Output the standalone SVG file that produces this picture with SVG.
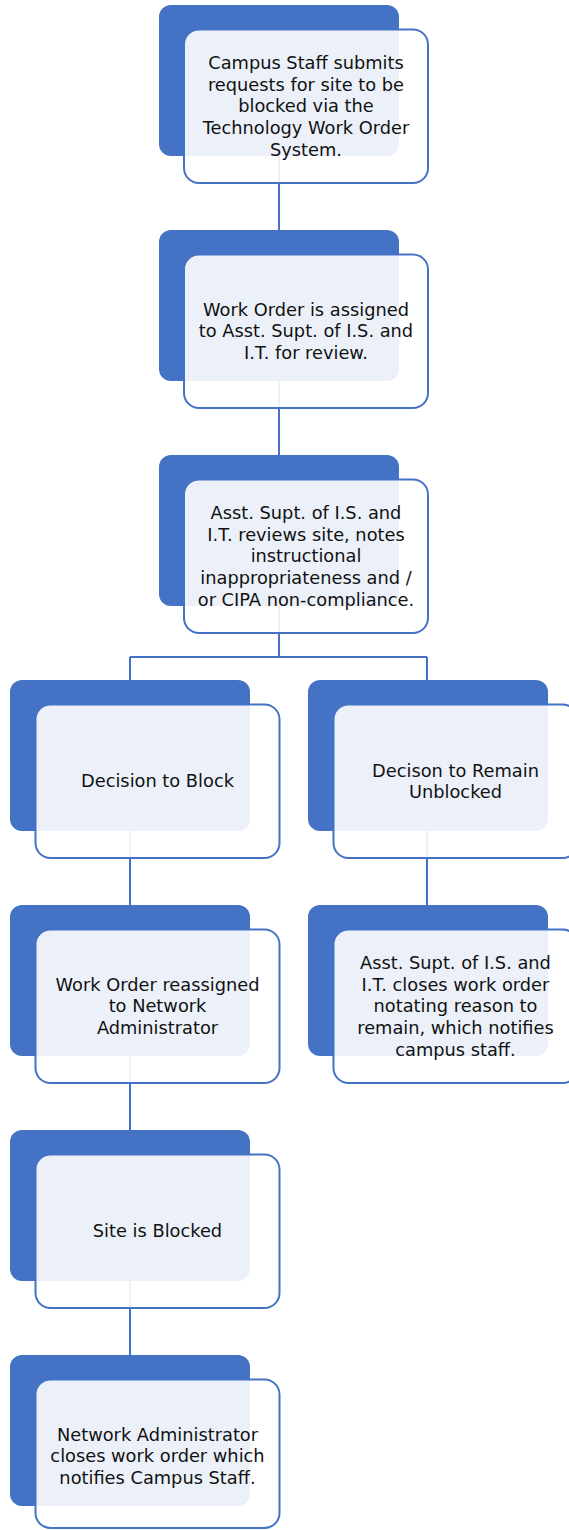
<svg xmlns="http://www.w3.org/2000/svg" width="569" height="1530" viewBox="0 0 569 1530">
<style>
.back{fill:#4472C4;}
.front{fill:#ffffff;fill-opacity:0.9;stroke:#4472C4;stroke-width:2;}
.conn{fill:none;stroke:#4472C4;stroke-width:2;}
text{font-family:"DejaVu Sans","Liberation Sans",sans-serif;font-size:17.8px;fill:#111111;text-anchor:middle;}
</style>
<rect width="569" height="1530" fill="#ffffff"/>
<g id="connectors">
<path class="conn" d="M279 155V230M279 380V455M279 605V657M130 657H427M130 657V680M427 657V680M130 830V905M130 1055V1130M130 1280V1355M427 830V905"/>
</g>
<g id="n1">
<rect class="back" x="159" y="5" width="240" height="151" rx="12"/>
<rect class="front" x="184" y="29.5" width="244" height="153.5" rx="15"/>
<text x="306" y="69">Campus Staff submits</text>
<text x="306" y="90.7">requests for site to be</text>
<text x="306" y="112.4">blocked via the</text>
<text x="306" y="134.1">Technology Work Order</text>
<text x="306" y="155.8">System.</text>
</g>
<g id="n2">
<rect class="back" x="159" y="230" width="240" height="151" rx="12"/>
<rect class="front" x="184" y="254.5" width="244" height="153.5" rx="15"/>
<text x="306" y="315.7">Work Order is assigned</text>
<text x="306" y="337.4">to Asst. Supt. of I.S. and</text>
<text x="306" y="359.1">I.T. for review.</text>
</g>
<g id="n3">
<rect class="back" x="159" y="455" width="240" height="151" rx="12"/>
<rect class="front" x="184" y="479.5" width="244" height="153.5" rx="15"/>
<text x="306" y="519">Asst. Supt. of I.S. and</text>
<text x="306" y="540.7">I.T. reviews site, notes</text>
<text x="306" y="562.4">instructional</text>
<text x="306" y="584.1">inappropriateness and /</text>
<text x="306" y="605.8">or CIPA non-compliance.</text>
</g>
<g id="n4">
<rect class="back" x="10" y="680" width="240" height="151" rx="12"/>
<rect class="front" x="35.5" y="704.5" width="244" height="153.5" rx="15"/>
<text x="157.5" y="787.4">Decision to Block</text>
</g>
<g id="n5">
<rect class="back" x="308" y="680" width="240" height="151" rx="12"/>
<rect class="front" x="333.5" y="704.5" width="244" height="153.5" rx="15"/>
<text x="455.5" y="776.5">Decison to Remain</text>
<text x="455.5" y="798.2">Unblocked</text>
</g>
<g id="n6">
<rect class="back" x="10" y="905" width="240" height="151" rx="12"/>
<rect class="front" x="35.5" y="929.5" width="244" height="153.5" rx="15"/>
<text x="157.5" y="990.7">Work Order reassigned</text>
<text x="157.5" y="1012.4">to Network</text>
<text x="157.5" y="1034.1">Administrator</text>
</g>
<g id="n7">
<rect class="back" x="308" y="905" width="240" height="151" rx="12"/>
<rect class="front" x="333.5" y="929.5" width="244" height="153.5" rx="15"/>
<text x="455.5" y="969">Asst. Supt. of I.S. and</text>
<text x="455.5" y="990.7">I.T. closes work order</text>
<text x="455.5" y="1012.4">notating reason to</text>
<text x="455.5" y="1034.1">remain, which notifies</text>
<text x="455.5" y="1055.8">campus staff.</text>
</g>
<g id="n8">
<rect class="back" x="10" y="1130" width="240" height="151" rx="12"/>
<rect class="front" x="35.5" y="1154.5" width="244" height="153.5" rx="15"/>
<text x="157.5" y="1237.4">Site is Blocked</text>
</g>
<g id="n9">
<rect class="back" x="10" y="1355" width="240" height="151" rx="12"/>
<rect class="front" x="35.5" y="1379.5" width="244" height="148.5" rx="15"/>
<text x="157.5" y="1440.7">Network Administrator</text>
<text x="157.5" y="1462.4">closes work order which</text>
<text x="157.5" y="1484.1">notifies Campus Staff.</text>
</g>
</svg>
